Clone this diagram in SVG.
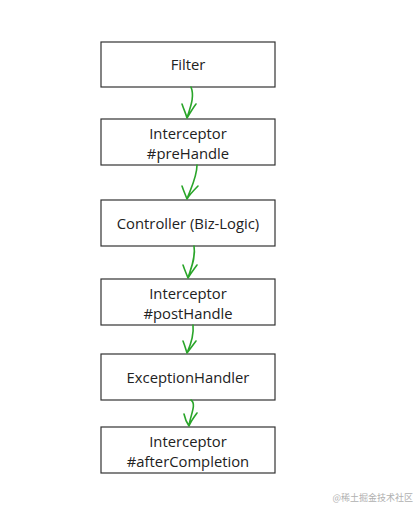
<svg xmlns="http://www.w3.org/2000/svg" width="419" height="509" viewBox="0 0 419 509">
<style>
.box{fill:#fff;stroke:#333;stroke-width:1.2}
.t{font-family:"Open Sans","DejaVu Sans",sans-serif;font-size:14.8px;fill:#222;text-anchor:middle}
.a{fill:none;stroke:#2aa52a;stroke-width:1.6;stroke-linecap:round;stroke-linejoin:round}
.wm{font-family:"Noto Sans CJK SC",sans-serif;font-size:9px;fill:#b0b0b0;text-anchor:end}
</style>
<rect width="419" height="509" fill="#fff"/>
<g id="filter"><rect class="box" x="101" y="42" width="174" height="45"/><text class="t" x="188" y="70">Filter</text></g>
<g id="prehandle"><rect class="box" x="101" y="119" width="174" height="46"/><text class="t" x="188" y="138.5">Interceptor</text><text class="t" x="188" y="158.5">#preHandle</text></g>
<g id="controller"><rect class="box" x="101" y="200" width="174" height="46"/><text class="t" x="188" y="228.5">Controller (Biz-Logic)</text></g>
<g id="posthandle"><rect class="box" x="101" y="279" width="174" height="46"/><text class="t" x="188" y="298.5">Interceptor</text><text class="t" x="188" y="318.5">#postHandle</text></g>
<g id="exception"><rect class="box" x="101" y="354" width="174" height="46"/><text class="t" x="188" y="382.5">ExceptionHandler</text></g>
<g id="aftercompletion"><rect class="box" x="101" y="427" width="174" height="46"/><text class="t" x="188" y="446.5">Interceptor</text><text class="t" x="188" y="466.5">#afterCompletion</text></g>
<g id="connectors">
<path class="a" d="M191 87 C195 97 190 108 187 118 M182 104 C184 110 186 114 187 118 C190 113 193 108 196 104"/>
<path class="a" d="M197 165 C197 177 191 188 187 199 M182 186 C184 192 186 196 187 199 C190 194 194 190 198 186"/>
<path class="a" d="M194 246 C196 257 191 268 188 278 M183 265 C185 271 187 275 188 278 C191 273 194 269 197 265"/>
<path class="a" d="M193 325 C194 334 191 344 187 353 M183 341 C185 346 186 350 187 353 C190 349 193 345 196 341"/>
<path class="a" d="M191 400 C197 404 190 416 189 426 M184 414 C185 419 187 423 189 426 C191 421 194 417 197 413"/>
</g>
<text class="wm" x="413" y="501">@稀土掘金技术社区</text>
</svg>
